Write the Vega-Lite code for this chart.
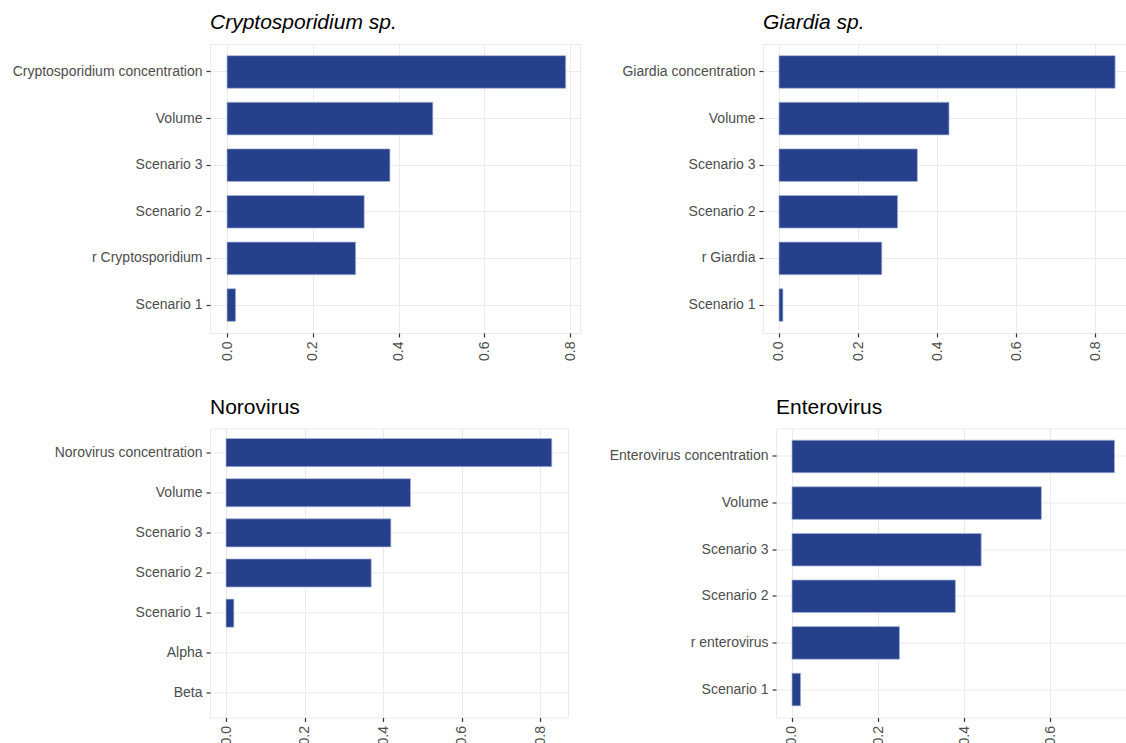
{
  "$schema": "https://vega.github.io/schema/vega-lite/v6.json",
  "background": "white",
  "padding": {"left": 4, "top": 11, "right": 0, "bottom": 0},
  "config": {
    "font": "Liberation Sans",
    "view": {"stroke": "#EBEBEB", "strokeWidth": 1},
    "axis": {
      "domain": false,
      "grid": true,
      "gridColor": "#EBEBEB",
      "gridWidth": 1,
      "tickColor": "#333333",
      "tickSize": 4,
      "tickWidth": 1.2,
      "labelColor": "#4D4D4D",
      "labelFontSize": 14,
      "labelPadding": 4,
      "labelLimit": 400,
      "title": null
    },
    "axisY": {"bandPosition": 0.5},
    "title": {
      "anchor": "start",
      "frame": "group",
      "fontSize": 21,
      "fontWeight": "normal",
      "color": "black",
      "offset": 11
    },
    "scale": {"bandPaddingInner": 0.3, "bandPaddingOuter": 0.25},
    "bar": {"color": "#27408B", "stroke": "#A9B6DA"}
  },
  "datasets": {
    "crypto": [
      {"variable": "Cryptosporidium concentration", "importance": 0.79},
      {"variable": "Volume", "importance": 0.48},
      {"variable": "Scenario 3", "importance": 0.38},
      {"variable": "Scenario 2", "importance": 0.32},
      {"variable": "r Cryptosporidium", "importance": 0.30},
      {"variable": "Scenario 1", "importance": 0.02}
    ],
    "giardia": [
      {"variable": "Giardia concentration", "importance": 0.85},
      {"variable": "Volume", "importance": 0.43},
      {"variable": "Scenario 3", "importance": 0.35},
      {"variable": "Scenario 2", "importance": 0.30},
      {"variable": "r Giardia", "importance": 0.26},
      {"variable": "Scenario 1", "importance": 0.01}
    ],
    "norovirus": [
      {"variable": "Norovirus concentration", "importance": 0.83},
      {"variable": "Volume", "importance": 0.47},
      {"variable": "Scenario 3", "importance": 0.42},
      {"variable": "Scenario 2", "importance": 0.37},
      {"variable": "Scenario 1", "importance": 0.02},
      {"variable": "Alpha", "importance": 0},
      {"variable": "Beta", "importance": 0}
    ],
    "enterovirus": [
      {"variable": "Enterovirus concentration", "importance": 0.75},
      {"variable": "Volume", "importance": 0.58},
      {"variable": "Scenario 3", "importance": 0.44},
      {"variable": "Scenario 2", "importance": 0.38},
      {"variable": "r enterovirus", "importance": 0.25},
      {"variable": "Scenario 1", "importance": 0.02}
    ]
  },
  "spacing": 31.5,
  "vconcat": [
    {
      "spacing": 31,
      "hconcat": [
        {
          "data": {"name": "crypto"},
          "title": {"text": "Cryptosporidium sp.", "fontStyle": "italic"},
          "width": 370,
          "height": 289,
          "mark": {"type": "bar"},
          "encoding": {
            "y": {"field": "variable", "type": "nominal", "sort": null,
                  "axis": {"minExtent": 205, "maxExtent": 205}},
            "x": {"field": "importance", "type": "quantitative",
                  "scale": {"domain": [-0.0397, 0.8233], "nice": false, "zero": false},
                  "axis": {"values": [0, 0.2, 0.4, 0.6, 0.8], "format": ".1f", "labelAngle": -90, "minExtent": 30, "maxExtent": 30}},
            "strokeWidth": {"condition": {"test": "datum.importance > 0", "value": 0.7}, "value": 0}
          }
        },
        {
          "data": {"name": "giardia"},
          "title": {"text": "Giardia sp.", "fontStyle": "italic"},
          "width": 363,
          "height": 289,
          "mark": {"type": "bar"},
          "encoding": {
            "y": {"field": "variable", "type": "nominal", "sort": null,
                  "axis": {"minExtent": 150, "maxExtent": 150}},
            "x": {"field": "importance", "type": "quantitative",
                  "scale": {"domain": [-0.0404, 0.8775], "nice": false, "zero": false},
                  "axis": {"values": [0, 0.2, 0.4, 0.6, 0.8], "format": ".1f", "labelAngle": -90, "minExtent": 30, "maxExtent": 30}},
            "strokeWidth": {"condition": {"test": "datum.importance > 0", "value": 0.7}, "value": 0}
          }
        }
      ]
    },
    {
      "spacing": 31,
      "hconcat": [
        {
          "data": {"name": "norovirus"},
          "title": {"text": "Norovirus"},
          "width": 358,
          "height": 289,
          "mark": {"type": "bar"},
          "encoding": {
            "y": {"field": "variable", "type": "nominal", "sort": null,
                  "axis": {"minExtent": 205, "maxExtent": 205}},
            "x": {"field": "importance", "type": "quantitative",
                  "scale": {"domain": [-0.0408, 0.8713], "nice": false, "zero": false},
                  "axis": {"values": [0, 0.2, 0.4, 0.6, 0.8], "format": ".1f", "labelAngle": -90, "minExtent": 30, "maxExtent": 30}},
            "strokeWidth": {"condition": {"test": "datum.importance > 0", "value": 0.7}, "value": 0}
          }
        },
        {
          "data": {"name": "enterovirus"},
          "title": {"text": "Enterovirus"},
          "width": 350,
          "height": 289,
          "mark": {"type": "bar"},
          "encoding": {
            "y": {"field": "variable", "type": "nominal", "sort": null,
                  "axis": {"minExtent": 175, "maxExtent": 175}},
            "x": {"field": "importance", "type": "quantitative",
                  "scale": {"domain": [-0.0372, 0.7767], "nice": false, "zero": false},
                  "axis": {"values": [0, 0.2, 0.4, 0.6], "format": ".1f", "labelAngle": -90, "minExtent": 30, "maxExtent": 30}},
            "strokeWidth": {"condition": {"test": "datum.importance > 0", "value": 0.7}, "value": 0}
          }
        }
      ]
    }
  ]
}
